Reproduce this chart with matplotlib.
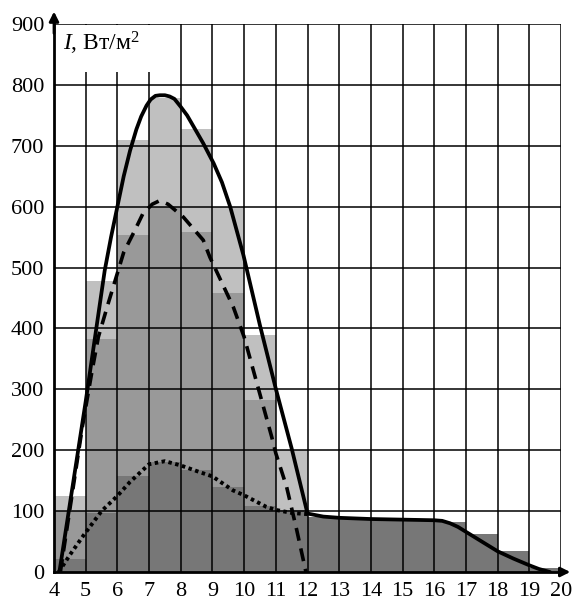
import numpy as np
import matplotlib
matplotlib.use('Agg')
import matplotlib.pyplot as plt
from matplotlib.patches import Rectangle

plt.rcParams['font.family'] = ['Liberation Serif', 'DejaVu Serif']
plt.rcParams['mathtext.fontset'] = 'custom'
plt.rcParams['mathtext.rm'] = 'Liberation Serif'
plt.rcParams['mathtext.it'] = 'Liberation Serif:italic'

# hourly bars, intervals 4-5 ... 19-20
hours = np.arange(4, 20)
light_bars = [125, 478, 710, 778, 727, 600, 390, 200, 90, 87, 86, 85, 82, 62, 34, 6]
medium_bars = [100, 382, 553, 600, 558, 458, 282, 102, 90, 87, 86, 85, 82, 62, 34, 6]
dark_bars = [22, 97, 158, 180, 168, 140, 108, 102, 90, 87, 86, 85, 82, 62, 34, 6]

# total (solid)
solid_t = [4.17, 5.0, 5.6, 5.8, 6.0, 6.2, 6.4, 6.6, 6.75, 6.92, 7.05, 7.2, 7.34, 7.5, 7.65,
           7.8, 8.0, 8.2, 8.4, 8.71, 9.04, 9.3, 9.56, 9.98, 10.5, 11.0, 11.5, 12.0, 12.5,
           13.0, 14.0, 15.0, 16.0, 16.25, 16.5, 16.75, 17.0, 17.5, 18.0, 18.5, 19.0, 19.3, 19.65]
solid_v = [0, 280, 495, 550, 600, 650, 692, 727, 748, 766, 776, 782, 783, 783, 781,
           777, 764, 750, 732, 704, 671, 640, 600, 520, 405, 301, 203, 96, 91,
           89, 87, 86, 85, 84, 80, 74, 66, 50, 34, 22, 11, 5, 0]

# direct (dashed)
dash_t = [4.2, 4.9, 5.2, 5.4, 5.71, 5.92, 6.2, 6.55, 6.8, 7.1, 7.34, 7.6, 8.08, 8.71, 8.92,
          9.66, 10.0, 10.87, 11.0, 11.34, 11.66, 11.95]
dash_v = [0, 240, 330, 386, 441, 477, 525, 561, 588, 604, 610, 604, 583, 545, 517,
          435, 386, 222, 195, 140, 69, 0]

# diffuse (dotted)
dot_t = [4.15, 4.5, 4.93, 5.5, 6.0, 6.4, 7.0, 7.5, 8.0, 8.6, 9.0, 9.65, 10.0, 10.7, 11.0, 11.5, 12.0]
dot_v = [0, 28, 60, 100, 125, 148, 177, 182, 175, 164, 157, 134, 126, 107, 102, 97, 95]

fig = plt.figure(figsize=(5.81, 6.02), dpi=100)
ax = fig.add_axes([54 / 581, 30 / 602, 507 / 581, 548 / 602])

ax.bar(hours, light_bars, width=1, align='edge', color='#c0c0c0', zorder=1)
ax.bar(hours, medium_bars, width=1, align='edge', color='#999999', zorder=1.1)
ax.bar(hours, dark_bars, width=1, align='edge', color='#777777', zorder=1.2)

for x in range(5, 21):
    ax.axvline(x, color='black', lw=1.1, zorder=2)
for y in range(100, 1000, 100):
    ax.axhline(y, color='black', lw=1.1, zorder=3)

# white box behind the axis label
ax.add_patch(Rectangle((4.05, 821), 3.0, 77, facecolor='white', edgecolor='none', zorder=2.5))
ax.text(4.28, 857, r'$I$, Вт/м$^2$', fontsize=17, va='baseline', ha='left', zorder=5)

ax.plot(solid_t, solid_v, color='black', lw=2.7, zorder=6, solid_capstyle='round',
        solid_joinstyle='round')
ax.plot(dash_t, dash_v, color='black', lw=2.6, dashes=(3.6, 2.2), zorder=5)
ax.plot(dot_t, dot_v, color='black', lw=2.8, dashes=(0.9, 0.9), zorder=5)

ax.set_xlim(4, 20)
ax.set_ylim(0, 900)
ax.set_xticks(range(4, 21))
ax.set_yticks(range(0, 1000, 100))
ax.tick_params(length=0, labelsize=16)
ax.tick_params(axis='y', pad=7)
ax.tick_params(axis='x', pad=7)
for s in ['top', 'right']:
    ax.spines[s].set_visible(False)
ax.spines['left'].set_linewidth(2)
ax.spines['bottom'].set_linewidth(2)
ax.spines['left'].set_zorder(7)
ax.spines['bottom'].set_zorder(7)

ax.annotate('', xy=(4, 925), xytext=(4, 880), annotation_clip=False,
            arrowprops=dict(arrowstyle='-|>', color='black', lw=2, mutation_scale=14))
ax.annotate('', xy=(20.38, 0), xytext=(19.9, 0), annotation_clip=False,
            arrowprops=dict(arrowstyle='-|>', color='black', lw=2, mutation_scale=14))

plt.savefig('out.png', dpi=100)
